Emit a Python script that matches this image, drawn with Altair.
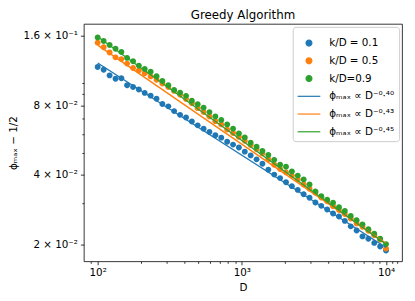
import altair as alt
import pandas as pd

# ---- data ----
D = [100, 110, 121, 133, 146, 160, 176, 193, 212, 233, 256, 281, 309, 339, 373,
     410, 450, 494, 543, 596, 655, 720, 791, 869, 954, 1048, 1151, 1265, 1389,
     1526, 1677, 1842, 2024, 2223, 2442, 2683, 2947, 3237, 3556, 3907, 4292,
     4715, 5179, 5690, 6251, 6866, 7543, 8286, 9103, 10000]

phi_01 = [0.1174, 0.1143, 0.1080, 0.1044, 0.1049, 0.09782, 0.09621, 0.09387, 0.09069, 0.08823,
          0.08549, 0.08115, 0.07928, 0.07562, 0.07284, 0.07093, 0.06819, 0.06557, 0.06347, 0.06139,
          0.05943, 0.05799, 0.05564, 0.05413, 0.05256, 0.05043, 0.04858, 0.04671, 0.04468, 0.04212,
          0.04010, 0.03874, 0.03717, 0.03574, 0.03443, 0.03294, 0.03183, 0.03035, 0.02936, 0.02829,
          0.02720, 0.02640, 0.02526, 0.02393, 0.02296, 0.02164, 0.02115, 0.02028, 0.01956, 0.01880]

phi_05 = [0.1498, 0.1430, 0.1358, 0.1293, 0.1271, 0.1215, 0.1163, 0.1134, 0.1104, 0.1069,
          0.1034, 0.09959, 0.09621, 0.09250, 0.08893, 0.08525, 0.08180, 0.07787, 0.07486, 0.07164,
          0.06840, 0.06622, 0.06285, 0.06078, 0.05844, 0.05618, 0.05386, 0.05163, 0.04955, 0.04679,
          0.04424, 0.04240, 0.04101, 0.03970, 0.03817, 0.03634, 0.03483, 0.03349, 0.03188, 0.03074,
          0.02927, 0.02814, 0.02705, 0.02588, 0.02464, 0.02381, 0.02289, 0.02190, 0.02095, 0.01918]

phi_09 = [0.1578, 0.1523, 0.1462, 0.1410, 0.1364, 0.1286, 0.1243, 0.1191, 0.1152, 0.1121,
          0.1072, 0.1021, 0.09782, 0.09342, 0.09097, 0.08806, 0.08383, 0.08100, 0.07825, 0.07486,
          0.07164, 0.06921, 0.06622, 0.06347, 0.06043, 0.05810, 0.05510, 0.05297, 0.05077, 0.04881,
          0.04647, 0.04424, 0.04338, 0.04141, 0.03970, 0.03817, 0.03634, 0.03392, 0.03229, 0.03120,
          0.03030, 0.02898, 0.02787, 0.02653, 0.02543, 0.02440, 0.02323, 0.02222, 0.02115, 0.02004]

point_labels = ["k/D = 0.1", "k/D = 0.5", "k/D=0.9"]
fit_labels = ["ϕₘₐₓ ∝ D⁻⁰·⁴⁰", "ϕₘₐₓ ∝ D⁻⁰·⁴³", "ϕₘₐₓ ∝ D⁻⁰·⁴⁵"]
fit_D = [100, 10000]
fit_01 = [0.1222, 0.01937]
fit_05 = [0.1461, 0.02017]
fit_09 = [0.1589, 0.02000]
colors = ["#1f77b4", "#ff7f0e", "#2ca02c"]

x_major = [100, 1000, 10000]
x_minor = [90, 200, 300, 400, 500, 600, 700, 800, 900,
           2000, 3000, 4000, 5000, 6000, 7000, 8000, 9000, 11000, 12000]
y_major = [0.02, 0.04, 0.08, 0.16]
y_minor = [0.03, 0.05, 0.06, 0.07, 0.09, 0.1]

# ---- tables ----
pts_rows = []
for lab, vals in zip(point_labels, [phi_01, phi_05, phi_09]):
    for d, v in zip(D, vals):
        pts_rows.append({"D": d, "phi": v, "series": lab})
pts = pd.DataFrame(pts_rows)

fit_rows = []
for lab, vals in zip(fit_labels, [fit_01, fit_05, fit_09]):
    for d, v in zip(fit_D, vals):
        fit_rows.append({"D": d, "phi": v, "series": lab})
fits = pd.DataFrame(fit_rows)

SYM = 529  # common symbol box (23 px) for points and legend
dot = "M-0.26,0A0.26,0.26,0,1,1,0.26,0A0.26,0.26,0,1,1,-0.26,0Z"
domain = point_labels + fit_labels
color_scale = alt.Scale(domain=domain, range=colors + colors)
shape_scale = alt.Scale(domain=domain, range=[dot] * 3 + ["stroke"] * 3)

legend = alt.Legend(title=None, orient="top-right", offset=3, labelFontSize=10.5,
                    fillColor="white", strokeColor="#cccccc", cornerRadius=3,
                    padding=4, rowPadding=0, symbolStrokeWidth=1.2, symbolSize=SYM,
                    labelOffset=8)

x_test = " || ".join(f"datum.value == {v}" for v in x_major)
y_test = " || ".join(f"datum.value == {v}" for v in y_major)

x_enc = alt.X("D:Q", title="D",
              scale=alt.Scale(type="log", domain=[80.2, 12920], nice=False),
              axis=alt.Axis(values=x_major + x_minor,
                            labelExpr="datum.value == 100 ? '10²' : datum.value == 1000 ? '10³' : datum.value == 10000 ? '10⁴' : ''",
                            tickSize={"condition": {"test": x_test, "value": 3.5}, "value": 2},
                            labelOverlap=False, labelFlush=False, labelPadding=3,
                            titlePadding=5))
y_enc = alt.Y("phi:Q", title="ϕₘₐₓ − 1/2",
              scale=alt.Scale(type="log", domain=[0.01687, 0.1806], nice=False),
              axis=alt.Axis(values=y_major + y_minor,
                            labelExpr="datum.value == 0.16 ? '1.6 × 10⁻¹' : datum.value == 0.08 ? '8 × 10⁻²' : datum.value == 0.04 ? '4 × 10⁻²' : datum.value == 0.02 ? '2 × 10⁻²' : ''",
                            tickSize={"condition": {"test": y_test, "value": 3.5}, "value": 2},
                            labelOverlap=False, labelFlush=False, labelPadding=3,
                            titlePadding=5))

points = alt.Chart(pts).mark_point(filled=True, opacity=1, size=SYM).encode(
    x=x_enc, y=y_enc,
    color=alt.Color("series:N", scale=color_scale, legend=legend),
    shape=alt.Shape("series:N", scale=shape_scale, legend=legend),
)

lines = alt.Chart(fits).mark_line(strokeWidth=1.4).encode(
    x=x_enc, y=y_enc,
    color=alt.Color("series:N", scale=color_scale, legend=legend),
)

chart = alt.layer(points, lines).properties(
    width=323, height=241,
    title=alt.TitleParams("Greedy Algorithm", fontSize=12, fontWeight="normal",
                          anchor="middle", offset=2),
    autosize=alt.AutoSizeParams(type="none"),
    padding={"left": 77, "top": 14, "right": 5, "bottom": 30},
).configure(font="DejaVu Sans").configure_view(
    stroke="black", strokeWidth=0.8
).configure_axis(
    domain=False, tickColor="black", tickWidth=0.8, labelColor="black",
    labelFontSize=10.5, titleFontSize=10.5, titleFontWeight="normal", titleColor="black",
    grid=False
)

chart.save("out.html", embed_options={"renderer": "svg", "actions": False})
